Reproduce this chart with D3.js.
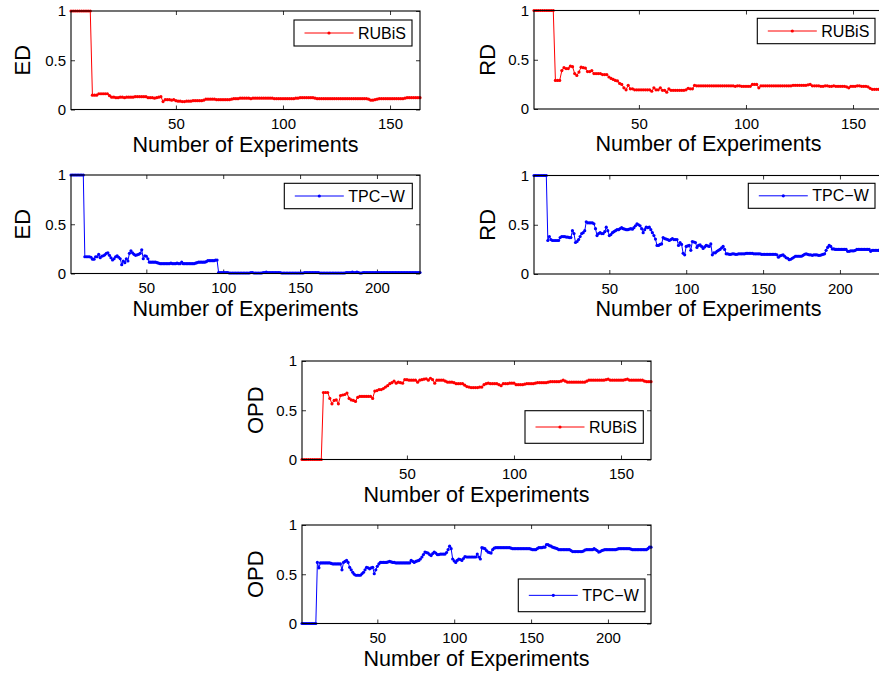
<!DOCTYPE html>
<html>
<head>
<meta charset="utf-8">
<script src="https://cdn.jsdelivr.net/npm/d3@7"></script>
<style>
body { margin: 0; background: #fff; }
text { font-family: "Liberation Sans", Arial, Helvetica, sans-serif; }
</style>
</head>
<body>
<div id="chart"></div>
<script>
var edRubis = [
  1,1,1,1,1,1,1,1,1,1,
  .145,.145,.145,.16,.16,.16,.16,.16,.14,.125,
  .125,.12,.12,.125,.125,.12,.125,.125,.125,.125,
  .13,.13,.13,.13,.13,.13,.12,.12,.12,.115,
  .12,.125,.13,.08,.1,.1,.1,.095,.1,.09,
  .085,.085,.08,.08,.085,.085,.085,.09,.09,.09,
  .09,.09,.095,.105,.105,.105,.105,.105,.1,.1,
  .1,.1,.1,.1,.1,.105,.11,.11,.11,.115,
  .115,.115,.115,.115,.11,.115,.115,.115,.115,.115,
  .115,.115,.115,.115,.115,.11,.11,.11,.11,.11,
  .11,.11,.11,.11,.11,.115,.115,.12,.12,.12,
  .12,.12,.12,.12,.115,.11,.11,.11,.11,.11,
  .11,.11,.11,.11,.11,.11,.11,.11,.11,.11,
  .11,.11,.11,.11,.11,.11,.11,.11,.11,.105,
  .095,.095,.1,.105,.11,.11,.11,.11,.11,.11,
  .11,.11,.11,.11,.11,.11,.115,.12,.12,.12,
  .12,.12,.12,.12
];
var rdRubis = [
  1,1,1,1,1,1,1,1,1,1,
  .29,.29,.29,.39,.42,.41,.41,.435,.43,.36,
  .34,.375,.425,.42,.415,.38,.38,.39,.36,.36,
  .36,.36,.35,.35,.35,.325,.31,.30,.29,.285,
  .26,.25,.215,.195,.24,.205,.205,.195,.195,.195,
  .195,.195,.195,.195,.195,.18,.215,.195,.195,.215,
  .19,.19,.17,.205,.19,.19,.19,.19,.19,.19,
  .19,.195,.21,.205,.205,.24,.235,.235,.235,.235,
  .235,.235,.235,.235,.235,.235,.235,.235,.235,.235,
  .235,.235,.235,.235,.23,.235,.235,.23,.23,.23,
  .23,.23,.25,.25,.25,.215,.235,.235,.235,.235,
  .235,.235,.235,.235,.235,.235,.235,.235,.235,.235,
  .235,.24,.24,.24,.24,.24,.24,.24,.245,.25,
  .235,.235,.235,.235,.23,.23,.235,.235,.23,.23,
  .235,.23,.23,.23,.23,.23,.225,.215,.23,.23,
  .23,.235,.235,.23,.23,.23,.225,.21,.2,.2,
  .2,.2,.2,.2
];
var edTpcw = [
  1,1,1,1,1,1,1,1,1,.17,
  .17,.17,.17,.165,.145,.145,.17,.17,.195,.16,
  .175,.18,.19,.205,.21,.185,.16,.137,.15,.17,
  .18,.165,.15,.09,.127,.11,.15,.127,.205,.23,
  .21,.195,.185,.19,.195,.205,.24,.15,.18,.175,
  .15,.115,.115,.115,.115,.115,.11,.105,.10,.10,
  .10,.10,.10,.10,.10,.105,.10,.10,.10,.105,
  .10,.10,.115,.10,.10,.10,.10,.10,.10,.10,
  .10,.105,.11,.115,.115,.115,.115,.115,.12,.13,
  .13,.13,.13,.13,.135,.137,.01,.01,.01,.01,
  .01,.01,.01,.005,.005,.005,.005,.005,.005,.005,
  .005,.005,.005,.005,.005,.005,.005,.01,.01,.005,
  .005,.005,.005,.005,.005,.01,.01,.015,.01,.01,
  .01,.01,.01,.01,.01,.01,.01,.005,.005,.005,
  .005,.005,.005,.005,.005,.005,.005,.005,.005,.005,
  .005,.005,.01,.01,.01,.01,.01,.01,.01,.01,
  .01,.01,.005,.005,.005,.005,.005,.005,.005,.005,
  .005,.005,.005,.005,.005,.005,.005,.005,.005,.01,
  .01,.01,.01,.015,.01,.01,.015,.01,.005,.005,
  .01,.01,.01,.01,.01,.01,.01,.01,.01,.01,
  .01,.01,.01,.01,.01,.01,.01,.01,.01,.01,
  .01,.01,.01,.01,.01,.01,.01,.01,.01,.01,
  .01,.01,.01,.01,.01,.01,.01,.01
];
var rdTpcw = [
  1,1,1,1,1,1,1,1,1,.34,
  .38,.35,.34,.34,.34,.34,.34,.37,.38,.38,
  .38,.375,.375,.37,.37,.44,.41,.32,.33,.35,
  .38,.41,.42,.44,.53,.52,.52,.52,.52,.51,
  .46,.39,.41,.42,.41,.41,.43,.475,.44,.39,
  .40,.42,.43,.44,.45,.45,.46,.47,.46,.455,
  .45,.45,.455,.46,.455,.47,.49,.51,.50,.49,
  .46,.42,.45,.475,.47,.475,.45,.42,.39,.355,
  .29,.29,.30,.305,.37,.36,.355,.35,.34,.35,
  .36,.35,.35,.35,.29,.32,.30,.21,.195,.28,
  .285,.29,.24,.33,.325,.32,.27,.29,.295,.28,
  .26,.275,.29,.285,.28,.305,.195,.215,.215,.23,
  .24,.25,.265,.28,.25,.205,.205,.2,.2,.205,
  .205,.2,.2,.205,.205,.205,.205,.205,.21,.21,
  .21,.21,.21,.205,.205,.205,.205,.205,.2,.2,
  .2,.2,.2,.2,.2,.2,.2,.2,.195,.17,
  .185,.19,.195,.18,.165,.16,.145,.15,.16,.17,
  .18,.18,.18,.18,.18,.19,.2,.205,.2,.195,
  .195,.19,.195,.195,.195,.19,.19,.195,.2,.205,
  .24,.27,.29,.28,.255,.255,.25,.25,.25,.25,
  .25,.25,.25,.25,.23,.23,.235,.235,.235,.24,
  .25,.25,.25,.25,.25,.25,.25,.25,.25,.23,
  .24,.24,.24,.24,.24,.24,.24,.24
];
var opdRubis = [
  0,0,0,0,0,0,0,0,0,0,
  .68,.68,.68,.62,.565,.60,.605,.565,.65,.655,
  .66,.675,.62,.605,.6,.59,.63,.64,.64,.64,
  .64,.64,.64,.62,.695,.70,.71,.71,.72,.735,
  .75,.77,.78,.795,.775,.785,.78,.775,.81,.81,
  .805,.805,.805,.805,.785,.805,.81,.815,.82,.805,
  .825,.81,.775,.805,.805,.805,.805,.795,.785,.785,
  .785,.78,.77,.77,.77,.77,.755,.74,.735,.73,
  .73,.73,.73,.735,.735,.76,.77,.775,.77,.77,
  .77,.77,.76,.75,.77,.77,.77,.775,.775,.775,
  .76,.76,.76,.76,.765,.77,.77,.77,.77,.775,
  .78,.78,.78,.78,.78,.785,.79,.79,.79,.79,
  .79,.795,.805,.795,.785,.785,.785,.785,.785,.785,
  .785,.785,.785,.795,.805,.805,.805,.805,.805,.805,
  .805,.805,.81,.815,.805,.805,.805,.805,.805,.805,
  .805,.81,.815,.805,.805,.805,.805,.805,.805,.805,
  .795,.79,.79,.79
];
var opdTpcw = [
  0,0,0,0,0,0,0,0,0,0,
  .62,.565,.615,.615,.615,.615,.615,.615,.615,.61,
  .605,.605,.605,.605,.605,.605,.545,.62,.63,.64,
  .62,.57,.545,.52,.50,.49,.49,.49,.49,.505,
  .52,.545,.57,.565,.555,.565,.57,.505,.545,.58,
  .605,.62,.62,.62,.62,.62,.625,.63,.625,.62,
  .62,.615,.615,.615,.615,.615,.615,.615,.615,.615,
  .615,.64,.63,.62,.63,.635,.64,.655,.675,.70,
  .725,.72,.715,.70,.69,.71,.725,.715,.70,.70,
  .705,.705,.705,.705,.72,.75,.785,.76,.655,.635,
  .62,.64,.655,.65,.64,.66,.68,.675,.675,.675,
  .675,.675,.675,.675,.705,.675,.655,.77,.765,.76,
  .74,.725,.72,.715,.75,.765,.77,.77,.77,.77,
  .77,.77,.77,.77,.77,.77,.765,.76,.76,.76,
  .76,.76,.76,.76,.76,.76,.76,.76,.76,.755,
  .75,.75,.75,.76,.77,.77,.77,.775,.775,.80,
  .80,.79,.785,.775,.77,.765,.76,.75,.75,.75,
  .75,.75,.75,.75,.75,.74,.73,.73,.73,.73,
  .73,.73,.73,.735,.745,.75,.75,.75,.75,.75,
  .76,.75,.74,.725,.73,.74,.745,.75,.75,.75,
  .75,.75,.75,.75,.75,.755,.76,.76,.76,.76,
  .76,.76,.76,.76,.755,.75,.75,.75,.75,.75,
  .75,.75,.75,.75,.75,.76,.775,.775
];

var rubisTicks = [50, 100, 150];
var tpcwTicks = [50, 100, 150, 200];
var yTicks = [0, 0.5, 1];

var W = 879, H = 675;
var pw = 349, ph = 98.5;

// panel layout (pixel boxes)
var panels = [
  {vals: edRubis,  ylab: "ED",  name: "RUBiS", color: "#ff0000", ticks: rubisTicks, left: 71,  top: 11,   yoff: 41, leg: {x: 223,   y: 9,    w: 118,   h: 26}},
  {vals: rdRubis,  ylab: "RD",  name: "RUBiS", color: "#ff0000", ticks: rubisTicks, left: 534, top: 10.5, yoff: 39, leg: {x: 223.3, y: 7.8,  w: 117.7, h: 25.4}},
  {vals: edTpcw,   ylab: "ED",  name: "TPC\u2212W", color: "#0000ff", ticks: tpcwTicks, left: 71,  top: 175,  yoff: 41, leg: {x: 213.3, y: 8.3,  w: 128,   h: 25.4}},
  {vals: rdTpcw,   ylab: "RD",  name: "TPC\u2212W", color: "#0000ff", ticks: tpcwTicks, left: 534, top: 175.5, yoff: 39, leg: {x: 214.3, y: 7.8, w: 126.7, h: 25}},
  {vals: opdRubis, ylab: "OPD", name: "RUBiS", color: "#ff0000", ticks: rubisTicks, left: 302, top: 361,  yoff: 39, leg: {x: 223,   y: 49.7, w: 118.3, h: 32.6}},
  {vals: opdTpcw,  ylab: "OPD", name: "TPC\u2212W", color: "#0000ff", ticks: tpcwTicks, left: 302, top: 525,  yoff: 39, leg: {x: 216.3, y: 54,   w: 126.7, h: 32.7}}
];

var svg = d3.select("#chart").append("svg")
    .attr("width", W)
    .attr("height", H);

panels.forEach(function(p) {
    var n = p.vals.length;
    var x = d3.scaleLinear().domain([1, n]).range([0, pw]);
    var y = d3.scaleLinear().domain([0, 1]).range([ph, 0]);

    var g = svg.append("g")
        .attr("transform", "translate(" + p.left + "," + p.top + ")");

    // ticks on all four sides, pointing inward
    g.append("g")
        .attr("transform", "translate(0," + ph + ")")
        .call(d3.axisBottom(x).tickValues(p.ticks).tickSizeInner(-4).tickSizeOuter(0).tickPadding(8.9));
    g.append("g")
        .call(d3.axisTop(x).tickValues(p.ticks).tickSizeInner(-4).tickSizeOuter(0).tickFormat(""));
    g.append("g")
        .call(d3.axisLeft(y).tickValues(yTicks).tickSizeInner(-4).tickSizeOuter(0).tickPadding(5).tickFormat(d3.format("")));
    g.append("g")
        .attr("transform", "translate(" + pw + ",0)")
        .call(d3.axisRight(y).tickValues(yTicks).tickSizeInner(-4).tickSizeOuter(0).tickFormat(""));

    g.selectAll(".domain").remove();
    g.selectAll(".tick line").attr("stroke", "#000").attr("stroke-width", 0.8);
    g.selectAll(".tick text")
        .attr("fill", "#000")
        .style("font-size", "15px")
        .style("font-family", "'Liberation Sans', Arial, sans-serif");

    // the data
    var line = d3.line()
        .x(function(d, i) { return x(i + 1); })
        .y(function(d) { return y(d); });

    g.append("path")
        .datum(p.vals)
        .attr("fill", "none")
        .attr("stroke", p.color)
        .attr("stroke-width", 1)
        .attr("d", line);

    g.append("g").selectAll("circle")
        .data(p.vals)
      .enter().append("circle")
        .attr("cx", function(d, i) { return x(i + 1); })
        .attr("cy", function(d) { return y(d); })
        .attr("r", 1.6)
        .attr("fill", p.color);

    // axes box
    g.append("rect")
        .attr("width", pw)
        .attr("height", ph)
        .attr("fill", "none")
        .attr("stroke", "#000")
        .attr("stroke-width", 1.1);

    // labels
    g.append("text")
        .attr("x", pw / 2)
        .attr("y", ph + 42)
        .attr("text-anchor", "middle")
        .style("font-size", "21.5px")
        .text("Number of Experiments");

    g.append("text")
        .attr("transform", "translate(" + (-p.yoff) + "," + (ph / 2) + ")rotate(-90)")
        .attr("text-anchor", "middle")
        .style("font-size", "22px")
        .text(p.ylab);

    // legend
    var lg = g.append("g")
        .attr("transform", "translate(" + p.leg.x + "," + p.leg.y + ")");
    lg.append("rect")
        .attr("width", p.leg.w)
        .attr("height", p.leg.h)
        .attr("fill", "#fff")
        .attr("stroke", "#000")
        .attr("stroke-width", 1.1);
    var cy = p.leg.h / 2;
    lg.append("line")
        .attr("x1", 10.5).attr("x2", 59.5)
        .attr("y1", cy).attr("y2", cy)
        .attr("stroke", p.color)
        .attr("stroke-width", 1);
    lg.append("circle")
        .attr("cx", 35).attr("cy", cy)
        .attr("r", 1.6)
        .attr("fill", p.color);
    lg.append("text")
        .attr("x", 64)
        .attr("y", cy + 5.7)
        .style("font-size", "16px")
        .text(p.name);
});
</script>
</body>
</html>
